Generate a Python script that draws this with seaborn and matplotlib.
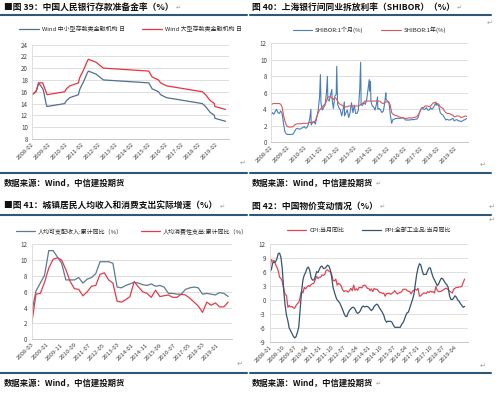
import pandas as pd
import seaborn as sns
import matplotlib.pyplot as plt
import matplotlib.dates as mdates
from matplotlib.lines import Line2D

# ---- 图39 存款准备金率 (调整日期)
rrr_dates = ['2008-02-01', '2008-04-25', '2008-05-20', '2008-06-25', '2008-09-25', '2008-10-15',
             '2008-12-05', '2008-12-25', '2010-01-18', '2010-02-25', '2010-05-10', '2010-11-16',
             '2010-11-29', '2010-12-20', '2011-01-20', '2011-02-24', '2011-03-25', '2011-04-21',
             '2011-05-18', '2011-06-20', '2011-12-05', '2012-02-24', '2012-05-18', '2015-02-05',
             '2015-04-20', '2015-09-06', '2015-10-24', '2016-03-01', '2018-04-25', '2018-07-05',
             '2018-10-15', '2019-01-15', '2019-01-25', '2019-09-16']
rrr_small = [15.5, 16, 16.5, 17.5, 16.5, 16, 14, 13.5, 14, 14.5, 15, 15.5, 16, 16.5, 17, 17.5, 18,
             18.5, 19, 19.5, 19, 18.5, 18, 17.5, 16.5, 16, 15.5, 15, 14, 13.5, 12.5, 12, 11.5, 11]
rrr_large = [15.5, 16, 16.5, 17.5, 17.5, 17, 16, 15.5, 16, 16.5, 17, 17.5, 18, 18.5, 19, 19.5, 20,
             20.5, 21, 21.5, 21, 20.5, 20, 19.5, 18.5, 18, 17.5, 17, 16, 15.5, 14.5, 14, 13.5, 13]

# ---- 图40 SHIBOR 月度 2008-02 ~ 2019-11
shibor_1m = [3.3, 3.6, 3.4, 3.7, 4.0, 3.6, 3.5, 3.8, 3.5, 2.3, 1.3,
             1.0, 0.95, 0.95, 0.95, 0.95, 1.0, 1.3, 1.6, 1.7, 1.6, 1.6, 1.7,
             1.8, 1.9, 1.7, 1.8, 2.2, 2.9, 2.1, 2.4, 2.5, 2.2, 3.0, 3.8,
             5.5, 4.8, 3.9, 4.2, 4.5, 6.0, 5.2, 5.0, 5.8, 5.3, 4.1, 5.6,
             5.8, 4.6, 4.2, 3.9, 3.2, 4.0, 3.2, 3.6, 3.9, 3.0, 3.6, 4.8,
             3.6, 4.5, 3.5, 3.5, 3.9, 6.5, 4.5, 4.5, 4.8, 4.6, 5.2, 6.5,
             6.2, 5.0, 4.4, 4.3, 3.9, 4.6, 4.0, 4.1, 3.9, 3.6, 3.8, 4.8,
             5.2, 5.0, 4.9, 3.4, 2.3, 2.8, 2.8, 2.9, 2.9, 2.9, 2.9, 2.95,
             2.95, 2.9, 2.7, 2.7, 2.7, 2.7, 2.75, 2.75, 2.75, 2.8, 2.8, 3.0,
             3.6, 4.0, 4.2, 4.0, 4.0, 4.2, 3.9, 3.9, 4.2, 4.0, 4.2, 4.5,
             4.5, 4.6, 4.4, 3.6, 3.4, 3.3, 3.0, 2.7, 2.8, 2.7, 2.7, 2.8,
             2.9, 2.6, 2.7, 2.75, 2.6, 2.6, 2.5, 2.6, 2.7, 2.75, 2.9]
shibor_1y = [4.6, 4.65, 4.7, 4.7, 4.7, 4.7, 4.7, 4.6, 4.3, 3.3, 2.6,
             2.1, 1.9, 1.85, 1.85, 1.85, 1.9, 2.1, 2.2, 2.25, 2.25, 2.25, 2.25,
             2.3, 2.3, 2.3, 2.3, 2.35, 2.4, 2.45, 2.45, 2.5, 2.6, 3.1, 3.6,
             3.9, 4.1, 4.3, 4.5, 4.6, 5.0, 5.5, 5.5, 5.5, 5.4, 5.2, 5.4,
             5.3, 5.0, 4.7, 4.6, 4.5, 4.4, 4.3, 4.3, 4.3, 4.4, 4.4, 4.4,
             4.4, 4.4, 4.4, 4.4, 4.4, 4.5, 4.6, 4.7, 4.9, 5.0, 5.0, 5.0,
             5.0, 5.0, 5.0, 5.0, 5.0, 5.0, 5.0, 5.0, 4.9, 4.75, 4.7, 4.85,
             4.9, 4.9, 4.8, 4.5, 3.6, 3.4, 3.3, 3.25, 3.2, 3.1, 3.05, 3.0,
             3.0, 2.9, 2.9, 2.9, 2.95, 2.95, 2.95, 2.95, 3.0, 3.05, 3.1, 3.3,
             3.6, 4.0, 4.2, 4.2, 4.4, 4.4, 4.4, 4.3, 4.4, 4.6, 4.8, 4.8,
             4.7, 4.7, 4.6, 4.3, 4.2, 4.1, 3.8, 3.6, 3.5, 3.5, 3.45, 3.35,
             3.3, 3.1, 3.1, 3.2, 3.2, 3.15, 3.0, 3.05, 3.1, 3.2, 3.15]
# 1个月 SHIBOR 的短期尖峰
spike_dates = ['2010-06-25', '2011-01-20', '2011-06-22', '2011-09-28', '2012-01-12', '2012-06-28',
               '2013-06-20', '2013-12-25', '2014-01-20', '2014-06-25', '2014-12-25', '2017-12-28']
spike_vals = [4.0, 8.2, 8.0, 6.4, 9.2, 4.9, 9.7, 7.6, 7.4, 5.5, 6.0, 4.9]

# ---- 图41 季度 2008-03 ~ 2019-09
income = [3.4, 6.1, 7.1, 8.1, 11.2, 11.2, 10.4, 9.6, 7.5, 7.5,
          7.5, 7.8, 7.1, 7.6, 7.8, 8.3, 9.8, 9.8, 9.8, 9.6,
          6.6, 6.5, 6.8, 7.0, 7.2, 7.1, 6.9, 6.8, 7.0, 6.7,
          6.8, 6.6, 5.8, 5.8, 5.7, 5.7, 6.3, 6.5, 6.6, 6.5,
          5.7, 5.8, 5.7, 5.6, 5.9, 5.8, 5.4]
consume = [2.0, 5.7, 5.8, 7.2, 9.0, 10.1, 10.3, 10.0, 8.8, 7.3,
           6.4, 6.3, 5.5, 6.0, 6.7, 6.8, 8.2, 8.4, 7.5, 7.1,
           4.8, 4.7, 5.0, 5.4, 7.3, 6.6, 6.0, 5.8, 5.3, 6.2,
           5.4, 5.5, 5.6, 5.3, 5.3, 5.7, 5.6, 5.2, 4.7, 4.2,
           3.4, 4.7, 4.3, 4.6, 4.1, 4.1, 4.7]

# ---- 图42 月度 2008-01 ~ 2019-11
cpi = [7.1, 8.7, 8.3, 8.5, 7.7, 7.1, 6.3, 4.9, 4.6, 4.0, 2.4, 1.2,
       1.0, -1.6, -1.2, -1.5, -1.4, -1.7, -1.8, -1.2, -0.8, -0.5, 0.6, 1.9,
       1.5, 2.7, 2.4, 2.8, 3.1, 2.9, 3.3, 3.5, 3.6, 4.4, 5.1, 4.6,
       4.9, 4.9, 5.4, 5.3, 5.5, 6.4, 6.5, 6.2, 6.1, 5.5, 4.2, 4.1,
       4.5, 3.2, 3.6, 3.4, 3.0, 2.2, 1.8, 2.0, 1.9, 1.7, 2.0, 2.5,
       2.0, 3.2, 2.1, 2.4, 2.1, 2.7, 2.7, 2.6, 3.1, 3.2, 3.0, 2.5,
       2.5, 2.0, 2.4, 1.8, 2.5, 2.3, 2.3, 2.0, 1.6, 1.6, 1.4, 1.5,
       0.8, 1.4, 1.4, 1.5, 1.2, 1.4, 1.6, 2.0, 1.6, 1.3, 1.5, 1.6,
       1.8, 2.3, 2.3, 2.3, 2.0, 1.9, 1.8, 1.3, 1.9, 2.1, 2.3, 2.1,
       2.5, 0.8, 0.9, 1.2, 1.5, 1.5, 1.4, 1.8, 1.6, 1.9, 1.7, 1.8,
       1.5, 2.9, 2.1, 1.8, 1.8, 1.9, 2.1, 2.3, 2.5, 2.5, 2.2, 1.9,
       1.7, 1.5, 2.3, 2.5, 2.7, 2.7, 2.8, 2.8, 3.0, 3.8, 4.5]
ppi = [6.1, 6.6, 8.0, 8.1, 8.2, 8.8, 10.0, 10.1, 9.1, 6.6, 2.0, -1.1,
       -3.3, -4.5, -6.0, -6.6, -7.2, -7.8, -8.2, -7.9, -7.0, -5.8, -2.1, 1.7,
       4.3, 5.4, 5.9, 6.8, 7.1, 6.4, 4.8, 4.3, 4.3, 5.0, 6.1, 5.9,
       6.6, 7.2, 7.3, 6.8, 6.8, 7.1, 7.5, 7.3, 6.5, 5.0, 2.7, 1.7,
       0.7, 0.0, -0.3, -0.7, -1.4, -2.1, -2.9, -3.5, -3.6, -2.8, -2.2, -1.9,
       -1.6, -1.6, -1.9, -2.6, -2.9, -2.7, -2.3, -1.6, -1.3, -1.5, -1.4, -1.4,
       -1.6, -2.0, -2.3, -2.0, -1.4, -1.1, -0.9, -1.2, -1.8, -2.2, -2.7, -3.3,
       -4.3, -4.8, -4.6, -4.6, -4.6, -4.8, -5.4, -5.9, -5.9, -5.9, -5.9, -5.9,
       -5.3, -4.9, -4.3, -3.4, -2.8, -2.6, -1.7, -0.8, 0.1, 1.2, 3.3, 5.5,
       6.9, 7.8, 7.6, 6.4, 5.5, 5.5, 5.5, 6.3, 6.9, 6.9, 5.8, 4.9,
       4.3, 3.7, 3.1, 3.4, 4.1, 4.7, 4.6, 4.1, 3.6, 3.3, 2.7, 0.9,
       0.1, 0.1, 0.4, 0.9, 0.6, 0.0, -0.3, -0.8, -1.2, -1.6, -1.4]

sns.set_theme(style='white')
plt.rcParams['font.family'] = ['Noto Sans CJK SC', 'DejaVu Sans']
plt.rcParams['axes.unicode_minus'] = False

W, H = 500, 394
fig = plt.figure(figsize=(5, 3.94), dpi=100)


def rect(l, t, r, b):
    return [l / W, 1 - b / H, (r - l) / W, (b - t) / H]


def style(ax, ylim, yticks, xlim, xticks, leg_y):
    ax.set_ylim(ylim)
    ax.set_yticks(yticks)
    ax.set_xlim(pd.Timestamp(xlim[0]), pd.Timestamp(xlim[1]))
    ax.set_xticks(xticks)
    ax.xaxis.set_major_formatter(mdates.DateFormatter('%Y-%m'))
    ax.grid(axis='y', color='#d9d9d9', lw=0.6)
    ax.grid(axis='x', visible=False)
    for s in ['top', 'right']:
        ax.spines[s].set_visible(False)
    ax.spines['left'].set_color('#d9d9d9')
    ax.spines['bottom'].set_color('#bfbfbf')
    ax.spines['left'].set_linewidth(0.6)
    ax.spines['bottom'].set_linewidth(0.6)
    ax.tick_params(axis='x', labelsize=4.3, length=0, pad=2, colors='#404040')
    ax.tick_params(axis='y', labelsize=4.5, length=0, pad=3, colors='#404040')
    plt.setp(ax.get_xticklabels(), rotation=45, ha='right', rotation_mode='anchor')
    ax.set_xlabel('')
    ax.set_ylabel('')
    ax.legend(loc='center', bbox_to_anchor=(0.5, leg_y), ncol=2, frameon=False,
              fontsize=4.3, handlelength=3.2, columnspacing=3, handletextpad=0.5)


def hline(y, x0, x1):
    fig.add_artist(Line2D([x0 / W, x1 / W], [1 - y / H, 1 - y / H], color='#2f5878', lw=1.5))


def ftext(x, y, s, **kw):
    return fig.text(x / W, 1 - y / H, s, va='center', **kw)


def mark_after(ax, t):
    # 段落标记紧跟在文字之后
    ax.annotate('↵', xy=(1, 0.5), xycoords=t, xytext=(1.5, 0), textcoords='offset points',
                va='center', ha='left', fontsize=4.5, color='#a0a0a0', annotation_clip=False)


# 图39
ax1 = fig.add_axes(rect(32, 44.5, 229, 139))
d1 = pd.to_datetime(rrr_dates)
sns.lineplot(x=d1, y=rrr_small, ax=ax1, color='#50708e', lw=0.9, label='Wind 中小型存款类金融机构 日')
sns.lineplot(x=d1, y=rrr_large, ax=ax1, color='#e8333f', lw=0.9, label='Wind 大型存款类金融机构 日')
style(ax1, (8, 24), range(8, 25, 2), ('2008-02-01', '2019-12-01'),
      pd.date_range('2008-02-01', '2019-02-01', freq='12MS'), 1.16)

# 图40
ax2 = fig.add_axes(rect(271, 43.3, 468, 142.3))
m2 = pd.date_range('2008-02-01', periods=len(shibor_1m), freq='MS')
s1m = pd.concat([pd.Series(shibor_1m, index=m2),
                 pd.Series(spike_vals, index=pd.to_datetime(spike_dates))]).sort_index()
sns.lineplot(x=s1m.index, y=s1m.values, ax=ax2, color='#4a7ebb', lw=0.8, label='SHIBOR:1个月(%)')
sns.lineplot(x=m2, y=shibor_1y, ax=ax2, color='#d65a5a', lw=0.8, label='SHIBOR:1年(%)')
style(ax2, (0, 12), range(0, 13, 2), ('2008-02-01', '2019-12-01'),
      pd.date_range('2008-02-01', '2019-02-01', freq='12MS'), 1.14)

# 图41
ax3 = fig.add_axes(rect(31.7, 244.3, 231.7, 339.3))
q3 = pd.date_range('2008-03-01', periods=len(income), freq='3MS')
sns.lineplot(x=q3, y=income, ax=ax3, color='#5b7a94', lw=0.9, label='人均可支配收入:累计同比（%）')
sns.lineplot(x=q3, y=consume, ax=ax3, color='#e33b4a', lw=0.9, label='人均消费性支出:累计同比（%）')
style(ax3, (0, 12), range(0, 13, 2), ('2008-03-01', '2019-11-15'),
      pd.date_range('2008-03-01', periods=14, freq='10MS'), 1.14)

# 图42
ax4 = fig.add_axes(rect(270, 244.3, 468, 341.7))
m4 = pd.date_range('2008-01-01', periods=len(cpi), freq='MS')
sns.lineplot(x=m4, y=cpi, ax=ax4, color='#e04651', lw=0.9, label='CPI:当月同比')
sns.lineplot(x=m4, y=ppi, ax=ax4, color='#36546c', lw=0.9, label='PPI:全部工业品:当月同比')
style(ax4, (-9, 12), range(-9, 13, 3), ('2008-01-01', '2020-01-15'),
      pd.date_range('2008-01-01', periods=16, freq='9MS'), 1.14)

# 标题、分隔线与资料来源
tkw = dict(fontsize=6.3, fontweight='bold', color='#111111')
t1 = ftext(4, 7, '■图 39：中国人民银行存款准备金率（%）', **tkw)
t2 = ftext(252, 7, '图 40：上海银行间同业拆放利率（SHIBOR）（%）', **tkw)
t3 = ftext(4, 206, '■图 41：城镇居民人均收入和消费支出实际增速（%）', **tkw)
t4 = ftext(252, 206, '图 42：中国物价变动情况（%）', **tkw)
for ax, t in [(ax1, t1), (ax2, t2), (ax3, t3), (ax4, t4)]:
    mark_after(ax, t)

for y in (15, 173, 215, 373):
    hline(y, 0, 247)
    hline(y, 250, 491)

skw = dict(fontsize=6, fontweight='bold', style='italic', color='#111111')
ftext(4, 183, '数据来源：Wind，中信建投期货', **skw)
s2 = ftext(252, 183, '数据来源：Wind，中信建投期货', **skw)
ftext(4, 383, '数据来源：Wind，中信建投期货', **skw)
s4 = ftext(252, 383, '数据来源：Wind，中信建投期货', **skw)
mark_after(ax2, s2)
mark_after(ax4, s4)

rkw = dict(fontsize=5, color='#a0a0a0', ha='center')
for x, y in [(243, 163), (490, 23), (483, 165), (240, 364), (492, 207), (492, 220), (483, 366)]:
    ftext(x, y, '↵', **rkw)

fig.savefig('out.png', dpi=100)
